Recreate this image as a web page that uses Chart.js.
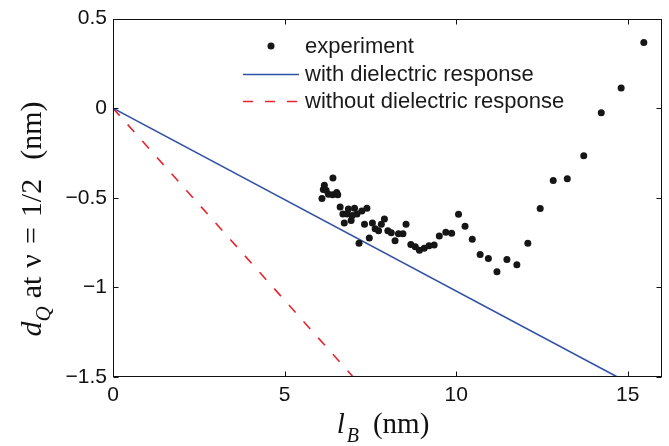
<!DOCTYPE html>
<html>
<head>
<meta charset="utf-8">
<script src="https://cdn.jsdelivr.net/npm/chart.js@4/dist/chart.umd.min.js"></script>
<style>
html,body{margin:0;padding:0;background:#fff;}
#wrap{width:669px;height:446px;}
</style>
</head>
<body>
<div id="wrap"><canvas id="c" width="669" height="446"></canvas></div>
<script>
// ---- data ----
const expX = [6.09,6.13,6.16,6.21,6.28,6.40,6.41,6.52,6.55,6.62,6.70,6.74,6.82,6.86,6.94,6.97,7.04,7.11,7.17,7.25,7.33,7.40,7.47,7.56,7.64,7.74,7.82,7.91,8.01,8.11,8.22,8.32,8.45,8.54,8.68,8.81,8.93,9.07,9.21,9.36,9.51,9.70,9.87,10.07,10.26,10.47,10.70,10.94,11.19,11.48,11.77,12.09,12.45,12.83,13.24,13.72,14.23,14.81,15.47];
const expY = [-0.504,-0.453,-0.43,-0.458,-0.48,-0.483,-0.39,-0.471,-0.483,-0.552,-0.59,-0.64,-0.59,-0.563,-0.626,-0.599,-0.559,-0.59,-0.753,-0.574,-0.647,-0.559,-0.724,-0.64,-0.673,-0.684,-0.648,-0.618,-0.684,-0.695,-0.74,-0.70,-0.70,-0.647,-0.76,-0.773,-0.793,-0.782,-0.768,-0.764,-0.713,-0.692,-0.698,-0.592,-0.659,-0.731,-0.817,-0.839,-0.912,-0.845,-0.874,-0.753,-0.56,-0.403,-0.394,-0.266,-0.026,0.113,0.366];
const withX = [0, 14.7];
const withY = [0, -1.5];
const withoutX = [0, 7.0];
const withoutY = [0, -1.5];
const xTickValues = [0, 5, 10, 15];
const xTickLabels = ['0', '5', '10', '15'];
const yTickValues = [0.5, 0, -0.5, -1, -1.5];
const yTickLabels = ['0.5', '0', '\u22120.5', '\u22121', '\u22121.5'];
const seriesLabels = ['experiment', 'with dielectric response', 'without dielectric response'];

const pts = (xs, ys) => xs.map((v, i) => ({x: v, y: ys[i]}));

const TICK_FONT = {family: '"Liberation Sans", Arial, Helvetica, sans-serif', size: 21};
const SERIF = '"Liberation Serif", "Times New Roman", serif';

const decor = {
  id: 'decor',
  afterDraw(chart) {
    const {ctx, chartArea: a, scales: {x, y}} = chart;
    ctx.save();
    // box
    ctx.strokeStyle = '#111';
    ctx.lineWidth = 1;
    const L = Math.round(a.left) + 0.5, T = Math.round(a.top) + 0.5;
    const R = Math.round(a.right) - 0.5, B = Math.round(a.bottom) - 0.5;
    ctx.strokeRect(L, T, R - L, B - T);
    // inward ticks on all four sides
    const TL = 5;
    ctx.beginPath();
    x.ticks.forEach(t => {
      const px = Math.round(x.getPixelForValue(t.value)) + 0.5;
      ctx.moveTo(px, B); ctx.lineTo(px, B - TL);
      ctx.moveTo(px, T); ctx.lineTo(px, T + TL);
    });
    y.ticks.forEach(t => {
      const py = Math.round(y.getPixelForValue(t.value)) + 0.5;
      ctx.moveTo(L, py); ctx.lineTo(L + TL, py);
      ctx.moveTo(R, py); ctx.lineTo(R - TL, py);
    });
    ctx.stroke();

    // legend
    const ds = chart.data.datasets;
    const lx0 = 243, lx1 = 299, tx = 305;
    const rows = [46.5, 74.5, 101.5];
    ctx.font = '22px "Liberation Sans", Arial, Helvetica, sans-serif';
    ctx.textBaseline = 'middle';
    ctx.textAlign = 'left';
    ds.forEach((d, i) => {
      const yy = rows[i];
      if (i === 0) {
        ctx.beginPath();
        ctx.fillStyle = d.backgroundColor;
        ctx.arc(271, yy - 0.5, d.pointRadius, 0, Math.PI * 2);
        ctx.fill();
      } else {
        ctx.beginPath();
        ctx.strokeStyle = d.borderColor;
        ctx.lineWidth = d.borderWidth;
        ctx.setLineDash(d.borderDash || []);
        ctx.moveTo(lx0, yy); ctx.lineTo(lx1, yy);
        ctx.stroke();
        ctx.setLineDash([]);
      }
      ctx.fillStyle = '#1a1a1a';
      ctx.fillText(d.label, tx, yy);
    });

    // axis titles (with subscripts)
    const drawRich = (parts, cx, cy, rot) => {
      ctx.save();
      ctx.translate(cx, cy);
      ctx.rotate(rot);
      ctx.textBaseline = 'alphabetic';
      ctx.textAlign = 'left';
      let w = 0;
      parts.forEach(p => { ctx.font = p.f; p.w = ctx.measureText(p.t).width; w += p.w + (p.g || 0); });
      let pos = -w / 2;
      ctx.fillStyle = '#111';
      parts.forEach(p => { ctx.font = p.f; ctx.fillText(p.t, pos, p.dy || 0); pos += p.w + (p.g || 0); });
      ctx.restore();
    };
    const R30 = '30px ' + SERIF;
    drawRich([
      {t: 'd', f: 'italic 30px ' + SERIF},
      {t: 'Q', f: 'italic 21px ' + SERIF, dy: 9, g: 8},
      {t: 'at', f: R30, g: 9},
      {t: '\u03bd', f: R30, g: 10},
      {t: '=', f: R30, g: 10},
      {t: '1/2', f: R30, g: 19},
      {t: '(nm)', f: R30}
    ], 41, 219, -Math.PI / 2);
    drawRich([
      {t: 'l', f: 'italic 29px ' + SERIF, g: 2},
      {t: 'B', f: 'italic 20px ' + SERIF, dy: 9, g: 14},
      {t: '(nm)', f: '29px ' + SERIF}
    ], 383, 433, 0);
    ctx.restore();
  }
};

new Chart(document.getElementById('c'), {
  type: 'scatter',
  data: {
    datasets: [
      {label: seriesLabels[0], data: pts(expX, expY), showLine: false, pointRadius: 3.5, pointHoverRadius: 3.5,
       backgroundColor: '#161616', borderColor: '#161616', borderWidth: 0, order: 0},
      {label: seriesLabels[1], data: pts(withX, withY), showLine: true, pointRadius: 0, borderColor: '#3352a6',
       backgroundColor: '#3352a6', borderWidth: 1.6, fill: false, order: 1},
      {label: seriesLabels[2], data: pts(withoutX, withoutY), showLine: true, pointRadius: 0, borderColor: '#e8232b',
       backgroundColor: '#e8232b', borderWidth: 1.6, borderDash: [10, 12], fill: false, order: 2}
    ]
  },
  options: {
    responsive: false,
    animation: false,
    devicePixelRatio: 1,
    layout: {padding: {top: 13, right: 7, left: 0, bottom: 0}},
    plugins: {legend: {display: false}, tooltip: {enabled: false}},
    scales: {
      x: {
        type: 'linear', min: 0, max: 16,
        afterBuildTicks: s => { s.ticks = xTickValues.map(v => ({value: v})); },
        afterFit: s => { s.height = 69; },
        ticks: {font: TICK_FONT, color: '#111', padding: 6, maxRotation: 0,
                callback: v => xTickLabels[xTickValues.indexOf(v)]},
        grid: {display: false, drawTicks: false},
        border: {display: false}
      },
      y: {
        type: 'linear', min: -1.5, max: 0.5,
        afterBuildTicks: s => { s.ticks = yTickValues.map(v => ({value: v})); },
        afterFit: s => { s.width = 113; },
        ticks: {font: TICK_FONT, color: '#111', padding: 6,
                callback: v => yTickLabels[yTickValues.indexOf(v)]},
        grid: {display: false, drawTicks: false},
        border: {display: false}
      }
    }
  },
  plugins: [decor]
});
</script>
</body>
</html>
